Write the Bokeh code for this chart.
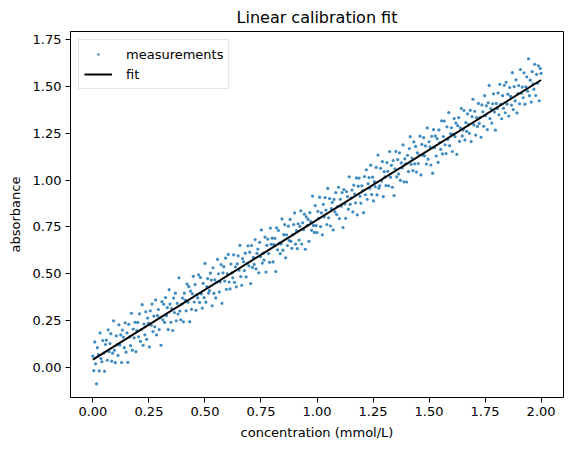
from bokeh.plotting import figure
from bokeh.models import Range1d, FixedTicker, Legend, LegendItem, ColumnDataSource
from bokeh.embed import file_html
from bokeh.resources import INLINE

concentration = [
0.000,0.004,0.008,0.012,0.016,0.020,0.024,0.028,0.032,0.036,
0.040,0.044,0.048,0.052,0.056,0.060,0.064,0.068,0.072,0.076,
0.080,0.084,0.088,0.092,0.096,0.100,0.104,0.108,0.112,0.116,
0.120,0.124,0.128,0.132,0.136,0.140,0.144,0.148,0.152,0.156,
0.160,0.164,0.168,0.172,0.176,0.180,0.184,0.188,0.192,0.196,
0.200,0.204,0.208,0.212,0.216,0.220,0.224,0.228,0.232,0.236,
0.240,0.244,0.248,0.252,0.256,0.260,0.264,0.268,0.272,0.276,
0.280,0.284,0.288,0.292,0.296,0.300,0.304,0.308,0.312,0.316,
0.320,0.324,0.328,0.332,0.336,0.340,0.344,0.348,0.352,0.356,
0.360,0.364,0.368,0.372,0.376,0.380,0.384,0.388,0.392,0.396,
0.400,0.404,0.408,0.412,0.416,0.420,0.424,0.428,0.432,0.436,
0.440,0.444,0.448,0.452,0.456,0.460,0.464,0.468,0.472,0.476,
0.480,0.484,0.488,0.492,0.496,0.500,0.504,0.508,0.512,0.516,
0.520,0.524,0.528,0.532,0.536,0.540,0.544,0.548,0.552,0.556,
0.560,0.564,0.568,0.572,0.576,0.580,0.584,0.588,0.592,0.596,
0.600,0.604,0.608,0.612,0.616,0.620,0.624,0.628,0.632,0.636,
0.640,0.644,0.648,0.652,0.656,0.660,0.664,0.668,0.672,0.676,
0.680,0.684,0.688,0.692,0.696,0.700,0.704,0.708,0.712,0.716,
0.720,0.724,0.728,0.732,0.736,0.740,0.744,0.748,0.752,0.756,
0.760,0.764,0.768,0.772,0.776,0.780,0.784,0.788,0.792,0.796,
0.800,0.804,0.808,0.812,0.816,0.820,0.824,0.828,0.832,0.836,
0.840,0.844,0.848,0.852,0.856,0.860,0.864,0.868,0.872,0.876,
0.880,0.884,0.888,0.892,0.896,0.900,0.904,0.908,0.912,0.916,
0.920,0.924,0.928,0.932,0.936,0.940,0.944,0.948,0.952,0.956,
0.960,0.964,0.968,0.972,0.976,0.980,0.984,0.988,0.992,0.996,
1.000,1.004,1.008,1.012,1.016,1.020,1.024,1.028,1.032,1.036,
1.040,1.044,1.048,1.052,1.056,1.060,1.064,1.068,1.072,1.076,
1.080,1.084,1.088,1.092,1.096,1.100,1.104,1.108,1.112,1.116,
1.120,1.124,1.128,1.132,1.136,1.140,1.144,1.148,1.152,1.156,
1.160,1.164,1.168,1.172,1.176,1.180,1.184,1.188,1.192,1.196,
1.200,1.204,1.208,1.212,1.216,1.220,1.224,1.228,1.232,1.236,
1.240,1.244,1.248,1.252,1.256,1.260,1.264,1.268,1.272,1.276,
1.280,1.284,1.288,1.292,1.296,1.300,1.304,1.308,1.312,1.316,
1.320,1.324,1.328,1.332,1.336,1.340,1.344,1.348,1.352,1.356,
1.360,1.364,1.368,1.372,1.376,1.380,1.384,1.388,1.392,1.396,
1.400,1.404,1.408,1.412,1.416,1.420,1.424,1.428,1.432,1.436,
1.440,1.444,1.448,1.452,1.456,1.460,1.464,1.468,1.472,1.476,
1.480,1.484,1.488,1.492,1.496,1.500,1.504,1.508,1.512,1.516,
1.520,1.524,1.528,1.532,1.536,1.540,1.544,1.548,1.552,1.556,
1.560,1.564,1.568,1.572,1.576,1.580,1.584,1.588,1.592,1.596,
1.600,1.604,1.608,1.612,1.616,1.620,1.624,1.628,1.632,1.636,
1.640,1.644,1.648,1.652,1.656,1.660,1.664,1.668,1.672,1.676,
1.680,1.684,1.688,1.692,1.696,1.700,1.704,1.708,1.712,1.716,
1.720,1.724,1.728,1.732,1.736,1.740,1.744,1.748,1.752,1.756,
1.760,1.764,1.768,1.772,1.776,1.780,1.784,1.788,1.792,1.796,
1.800,1.804,1.808,1.812,1.816,1.820,1.824,1.828,1.832,1.836,
1.840,1.844,1.848,1.852,1.856,1.860,1.864,1.868,1.872,1.876,
1.880,1.884,1.888,1.892,1.896,1.900,1.904,1.908,1.912,1.916,
1.920,1.924,1.928,1.932,1.936,1.940,1.944,1.948,1.952,1.956,
1.960,1.964,1.968,1.972,1.976,1.980,1.984,1.988,1.992,1.996,
2.000,
]

absorbance = [
0.060,-0.017,0.136,0.019,-0.088,0.105,0.068,-0.019,0.184,0.047,
0.030,0.143,0.076,-0.021,0.122,0.145,0.038,0.201,0.084,0.127,
0.180,0.033,0.076,0.249,0.092,0.025,0.168,0.121,0.064,0.227,
0.120,0.173,0.026,0.199,0.162,0.105,0.238,0.081,0.184,0.027,
0.230,0.163,0.116,0.289,0.092,0.205,0.158,0.241,0.084,0.197,
0.240,0.163,0.286,0.139,0.202,0.335,0.118,0.231,0.174,0.297,
0.150,0.263,0.236,0.109,0.302,0.225,0.338,0.191,0.274,0.217,
0.360,0.173,0.276,0.309,0.202,0.265,0.118,0.351,0.254,0.337,
0.240,0.373,0.276,0.319,0.202,0.415,0.338,0.241,0.314,0.197,
0.370,0.293,0.396,0.249,0.342,0.285,0.478,0.301,0.254,0.337,
0.370,0.243,0.396,0.359,0.302,0.445,0.348,0.431,0.244,0.407,
0.310,0.393,0.486,0.349,0.442,0.305,0.388,0.371,0.494,0.347,
0.480,0.393,0.316,0.449,0.372,0.555,0.348,0.431,0.474,0.397,
0.410,0.503,0.466,0.329,0.532,0.395,0.468,0.371,0.454,0.577,
0.500,0.403,0.456,0.549,0.342,0.505,0.538,0.461,0.584,0.417,
0.500,0.603,0.456,0.419,0.552,0.505,0.478,0.601,0.454,0.537,
0.430,0.553,0.596,0.519,0.652,0.485,0.438,0.581,0.564,0.517,
0.610,0.483,0.556,0.649,0.542,0.615,0.448,0.651,0.534,0.587,
0.550,0.683,0.526,0.609,0.632,0.505,0.668,0.591,0.734,0.557,
0.610,0.573,0.696,0.509,0.652,0.685,0.608,0.561,0.744,0.657,
0.690,0.563,0.656,0.689,0.512,0.745,0.628,0.731,0.664,0.607,
0.660,0.793,0.626,0.709,0.762,0.585,0.708,0.651,0.754,0.677,
0.790,0.673,0.636,0.709,0.762,0.825,0.658,0.731,0.634,0.767,
0.680,0.753,0.836,0.659,0.772,0.735,0.818,0.631,0.804,0.757,
0.790,0.673,0.826,0.779,0.732,0.915,0.758,0.721,0.864,0.757,
0.720,0.833,0.796,0.909,0.752,0.825,0.708,0.871,0.804,0.907,
0.840,0.763,0.956,0.799,0.902,0.755,0.848,0.881,0.734,0.897,
0.830,0.933,0.816,0.859,0.962,0.795,0.898,0.861,0.934,0.747,
0.950,0.873,0.796,0.939,0.912,0.845,1.018,0.871,0.904,0.947,
0.830,0.973,0.926,0.879,1.012,0.815,0.968,1.011,0.914,0.877,
0.970,0.943,0.826,1.019,0.922,1.055,0.898,0.981,1.014,0.957,
1.080,0.923,1.016,0.889,0.992,0.965,1.068,0.921,1.134,0.957,
0.970,1.063,0.996,1.099,0.912,1.045,1.018,0.971,1.094,1.047,
0.970,1.153,1.016,1.079,0.962,1.105,0.918,1.061,1.154,1.017,
1.110,1.033,1.146,0.999,1.092,1.065,1.188,0.991,1.114,1.087,
0.990,1.133,1.046,1.169,1.232,1.085,1.118,1.051,1.204,1.087,
1.180,1.043,1.146,1.089,1.132,1.235,1.028,1.191,1.134,1.227,
1.130,1.183,1.086,1.279,1.112,1.205,1.178,1.081,1.234,1.037,
1.270,1.173,1.236,1.129,1.222,1.095,1.268,1.201,1.164,1.317,
1.140,1.233,1.316,1.189,1.142,1.285,1.218,1.361,1.184,1.247,
1.280,1.153,1.246,1.329,1.232,1.305,1.138,1.291,1.334,1.207,
1.280,1.383,1.236,1.269,1.372,1.215,1.308,1.261,1.354,1.297,
1.250,1.373,1.206,1.339,1.432,1.295,1.368,1.241,1.334,1.287,
1.410,1.303,1.336,1.229,1.402,1.365,1.288,1.451,1.344,1.397,
1.270,1.413,1.506,1.329,1.382,1.305,1.408,1.461,1.364,1.267,
1.410,1.383,1.466,1.349,1.512,1.405,1.328,1.451,1.384,1.507,
1.360,1.523,1.406,1.459,1.342,1.495,1.448,1.401,1.574,1.377,
1.500,1.423,1.536,1.359,1.462,1.505,1.408,1.591,1.464,1.497,
1.440,1.573,1.406,1.499,1.552,1.475,1.648,1.451,1.534,1.417,
1.580,1.513,1.486,1.619,1.452,1.565,1.518,1.611,1.424,1.597,
1.570,
]

fit_x = [0.0, 2.0]
fit_y = [0.041, 1.535]

x_ticks = [0.0, 0.25, 0.5, 0.75, 1.0, 1.25, 1.5, 1.75, 2.0]
x_tick_labels = ["0.00", "0.25", "0.50", "0.75", "1.00", "1.25", "1.50", "1.75", "2.00"]
y_ticks = [0.0, 0.25, 0.5, 0.75, 1.0, 1.25, 1.5, 1.75]
y_tick_labels = ["0.00", "0.25", "0.50", "0.75", "1.00", "1.25", "1.50", "1.75"]

FONT = "DejaVu Sans"

p = figure(width=576, height=454, output_backend="svg", toolbar_location=None,
           x_range=Range1d(-0.1, 2.1), y_range=Range1d(-0.161, 1.794),
           min_border_left=70, min_border_right=13, min_border_top=30, min_border_bottom=57,
           title="Linear calibration fit")

p.background_fill_color = "white"
p.border_fill_color = "white"
p.grid.visible = False
p.outline_line_color = "black"
p.outline_line_alpha = 1.0
p.outline_line_width = 1

p.title.align = "center"
p.title.text_font = FONT
p.title.text_font_style = "normal"
p.title.text_font_size = "16px"
p.title.text_color = "black"

for ax, ticks, labels in ((p.xaxis[0], x_ticks, x_tick_labels), (p.yaxis[0], y_ticks, y_tick_labels)):
    ax.ticker = FixedTicker(ticks=ticks)
    ax.major_label_overrides = {t: l for t, l in zip(ticks, labels)}
    ax.axis_line_color = None
    ax.major_tick_line_color = "black"
    ax.major_tick_out = 5
    ax.major_tick_in = 0
    ax.minor_tick_line_color = None
    ax.major_label_text_font = FONT
    ax.major_label_text_font_size = "13px"
    ax.major_label_text_color = "black"
    ax.major_label_standoff = 4
    ax.axis_label_text_font = FONT
    ax.axis_label_text_font_size = "13px"
    ax.axis_label_text_font_style = "normal"
    ax.axis_label_text_color = "black"

p.xaxis[0].axis_label = "concentration (mmol/L)"
p.yaxis[0].axis_label = "absorbance"
p.xaxis[0].axis_label_standoff = 6
p.yaxis[0].axis_label_standoff = 7

src = ColumnDataSource(data=dict(x=concentration, y=absorbance))
pts = p.scatter("x", "y", source=src, size=3.2, fill_color="#1f77b4", fill_alpha=0.85,
                line_color=None)
ln = p.line(fit_x, fit_y, line_color="black", line_width=2)

legend = Legend(items=[LegendItem(label="measurements", renderers=[pts]),
                       LegendItem(label="fit", renderers=[ln])],
                location="top_left")
legend.margin = 8
legend.padding = 5
legend.spacing = 2
legend.label_text_font = FONT
legend.label_text_font_size = "13px"
legend.label_text_color = "black"
legend.glyph_width = 28
legend.glyph_height = 6
legend.label_height = 18
legend.label_standoff = 14
legend.border_line_color = "#cccccc"
legend.border_line_width = 1
legend.background_fill_alpha = 0.8
p.add_layout(legend)

open("out.html", "w").write(file_html(p, INLINE))
